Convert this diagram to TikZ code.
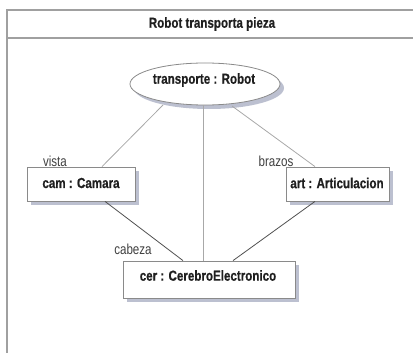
\documentclass[tikz,border=0pt]{standalone}
\usepackage{fontspec}
\usepackage{graphicx}
\setmainfont{Liberation Sans}[BoldFeatures={FakeBold=0.6}]
\usetikzlibrary{shapes.geometric,calc}
\newcommand\narrowtxt[1]{\scalebox{0.8}[1]{#1}}
\definecolor{frameC}{HTML}{A0A0A0}
\definecolor{shadowC}{HTML}{BCC0D0}
\definecolor{boxC}{HTML}{8A8A8A}
\definecolor{lightL}{HTML}{A8A8A8}
\definecolor{darkL}{HTML}{505050}
\tikzset{
  objbox/.style={draw=boxC, line width=0.8pt, fill=white, rectangle, inner sep=0pt},
  shad/.style={fill=shadowC, draw=none},
  objtext/.style={font=\fontsize{14.5}{16}\selectfont\bfseries, inner sep=0pt, text=black!88},
  rolelabel/.style={font=\fontsize{14.5}{16}\selectfont, inner sep=0pt, text=black!75},
  lightline/.style={draw=lightL, line width=0.8pt},
  darkline/.style={draw=darkL, line width=0.8pt},
  frameline/.style={draw=frameC, line width=1.4pt}
}
\begin{document}
\begin{tikzpicture}[x=1pt,y=-1pt]
\useasboundingbox (0,0) rectangle (413,353);
% frame
\coordinate (fTL) at (7,10);
\coordinate (fTR) at (413,10);
\coordinate (fBL) at (7,353);
\coordinate (sL) at (7,38);
\coordinate (sR) at (413,38);
\draw[frameline] (fBL) -- (fTL) -- (fTR);
\draw[frameline] (sL) -- (sR);
\node[font=\fontsize{14.5}{16}\selectfont\bfseries, text=black!88, inner sep=0pt] (title) at (212,24) {\narrowtxt{Robot transporta pieza}};
% shadows
\fill[shad] (31,171) rectangle (139,205);
\fill[shad] (290,171) rectangle (393,205);
\fill[shad] (127,265) rectangle (299,302);
\fill[shad] (209,88) ellipse (75 and 21);
% nodes
\node[draw=boxC, line width=0.8pt, fill=white, ellipse, minimum width=150pt, minimum height=42pt, inner sep=0pt] (ell) at (205,84) {};
\node[objbox, minimum width=108pt, minimum height=34pt] (cam) at (81,184) {};
\node[objbox, minimum width=103pt, minimum height=34pt] (art) at (337.5,184) {};
\node[objbox, minimum width=172pt, minimum height=37pt] (cer) at (209,279.5) {};
% connectors
\draw[lightline] ($(cam.north)+(21,0)$) -- ($(ell.center)+(-42,21)$);
\draw[lightline] ($(art.north)+(-22.5,0)$) -- ($(ell.center)+(27,22)$);
\draw[lightline] (ell.south -| 203,0) -- (cer.north -| 203,0);
\draw[darkline] ($(cam.south)+(24,0)$) -- ($(cer.north)+(-26,0)$);
\draw[darkline] ($(art.south)+(-22.5,0)$) -- ($(cer.north)+(24,0)$);
% texts
\node[objtext] (ellt) at (204,80) {\narrowtxt{transporte : Robot}};
\node[objtext] (camt) at (81,183) {\narrowtxt{cam : Camara}};
\node[objtext] (artt) at (337,183) {\narrowtxt{art : Articulacion}};
\node[objtext] (cert) at (208,275.5) {\narrowtxt{cer : CerebroElectronico}};
\node[rolelabel] (vista) at (55,161) {\narrowtxt{vista}};
\node[rolelabel] (brazos) at (276,161) {\narrowtxt{brazos}};
\node[rolelabel] (cabeza) at (133,249) {\narrowtxt{cabeza}};
\end{tikzpicture}
\end{document}
